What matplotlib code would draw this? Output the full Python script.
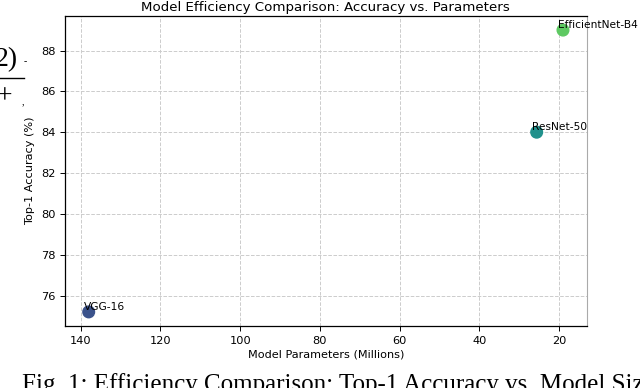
import matplotlib
matplotlib.use("Agg")
import matplotlib.pyplot as plt
import seaborn as sns

models = ["VGG-16", "ResNet-50", "EfficientNet-B4"]
params_m = [138.0, 25.6, 19.0]
top1_acc = [75.2, 84.0, 89.0]

colors = sns.color_palette("viridis", len(models))

fig = plt.figure(figsize=(6.4, 3.88), dpi=100)
ax = fig.add_axes([65 / 640, 62 / 388, 521.7 / 640, 310 / 388])

ax.scatter(params_m, top1_acc, c=colors, s=70, zorder=3)
for name, x, y in zip(models, params_m, top1_acc):
    ax.annotate(name, (x, y), xytext=(-5, 2), textcoords="offset pixels",
                fontsize=7.7, zorder=4)

ax.invert_xaxis()
ax.grid(True, linestyle="--", color="#cccccc", linewidth=0.7)
ax.set_axisbelow(True)
ax.tick_params(labelsize=8.2, width=0.7, length=3.5)
for side in ["left", "bottom", "top"]:
    ax.spines[side].set_linewidth(0.9)
ax.spines["right"].set_color("#aaaaaa")
ax.set_xlabel("Model Parameters (Millions)", fontsize=8.1, labelpad=3)
ax.set_ylabel("Top-1 Accuracy (%)", fontsize=8.1, labelpad=4)
ax.set_title("Model Efficiency Comparison: Accuracy vs. Parameters",
             fontsize=9.6, pad=3.5)

# surrounding page text (cropped)
serif = ["Liberation Serif", "DejaVu Serif"]
fig.text(22 / 640, 1 - 391 / 388,
         "Fig. 1: Efficiency Comparison: Top-1 Accuracy vs. Model Size",
         family=serif, fontsize=18, va="baseline", ha="left")
fig.text(-5 / 640, 1 - 66 / 388, "2)", family=serif, fontsize=20,
         va="baseline", ha="left")
fig.text(24 / 640, 1 - 64 / 388, "-", family=serif, fontsize=7,
         va="baseline", ha="left")
fig.add_artist(plt.Line2D([0, 24 / 640], [1 - 78 / 388, 1 - 78 / 388],
                          color="black", linewidth=1.0))
fig.text(-3 / 640, 1 - 103 / 388, "+", family=serif, fontsize=20,
         va="baseline", ha="left")
fig.text(22 / 640, 1 - 104 / 388, ",", family=serif, fontsize=7,
         va="baseline", ha="left")

fig.savefig("out.png", dpi=100)
